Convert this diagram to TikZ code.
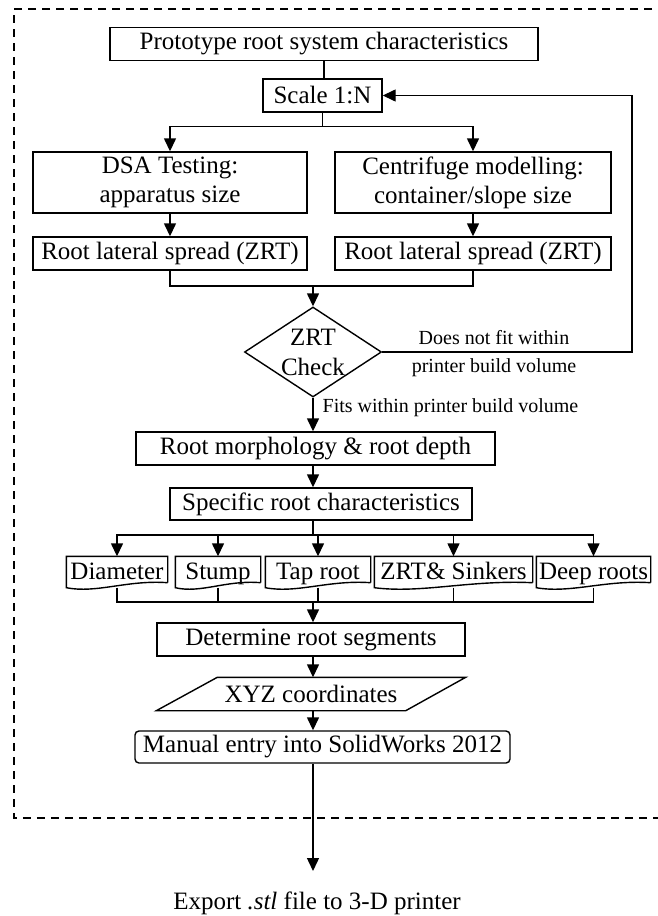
\documentclass[tikz,border=0pt]{standalone}
\usepackage{fontspec}
\setmainfont{Liberation Serif}
\usetikzlibrary{arrows.meta,shapes.geometric,calc}

\begin{document}
\begin{tikzpicture}[x=1pt,y=-1pt,line width=1.4pt,
  rbox/.style={draw,rectangle,inner sep=0pt,minimum height=33pt,font=\fontsize{25}{29}\selectfont,align=center},
  docnode/.style={rectangle,inner sep=0pt,minimum height=30pt,text height=19pt,text depth=4pt,font=\fontsize{25}{29}\selectfont},
  lbl/.style={inner sep=0pt,font=\fontsize{20}{28}\selectfont,align=center},
  arr/.style={-{Triangle[width=12pt,length=13pt]}}]
\useasboundingbox (0,0) rectangle (657,916);
\draw[line width=1.2pt,dash pattern=on 8pt off 6pt] (680,9) -- (14,9) -- (14,818) -- (680,818);

\node[rbox,minimum width=428pt] (proto) at (324,44) {Prototype root system characteristics};
\node[rbox,minimum width=119pt] (scale) at (322.5,95.5) {Scale 1:N};
\node[rbox,minimum width=274pt,minimum height=61pt] (dsa) at (170,182.5) {DSA Testing:\\apparatus size};
\node[rbox,minimum width=276pt,minimum height=61pt] (cent) at (473,182.5) {Centrifuge modelling:\\container/slope size};
\node[rbox,minimum width=274pt] (rls1) at (170,253.5) {Root lateral spread (ZRT)};
\node[rbox,minimum width=276pt] (rls2) at (473,253.5) {Root lateral spread (ZRT)};
\node[draw,diamond,aspect=1.52,minimum width=137pt,minimum height=90pt,inner sep=-6pt,
  font=\fontsize{25}{30}\selectfont,align=center] (chk) at (313,352) {ZRT\\Check};
\coordinate (j1) at (313,286);
\coordinate (fb) at (632,352);
\node[lbl] (nofit) at (494,354) {Does not fit within\\printer build volume};
\node[lbl,anchor=west] (fits) at (322,408) {Fits within printer build volume};
\node[rbox,minimum width=359pt] (morph) at (315.5,448.5) {Root morphology \& root depth};
\node[rbox,minimum width=302pt,minimum height=32pt] (spec) at (321,504) {Specific root characteristics};
\coordinate (s2) at (313,535);

% document shapes
\node[docnode,minimum width=100pt] (diam) at (117,572) {Diameter};
\node[docnode,minimum width=84pt] (stump) at (218,572) {Stump};
\node[docnode,minimum width=104pt] (tap) at (318,572) {Tap root};
\node[docnode,minimum width=157pt] (zrt) at (453.5,572) {ZRT\& Sinkers};
\node[docnode,minimum width=113pt] (deep) at (593.5,572) {Deep roots};
\foreach \n in {diam,stump,tap,zrt,deep}
  \draw ($(\n.south east)+(0,-5)$) -- (\n.north east) -- (\n.north west) -- (\n.south west)
    .. controls ($(\n.south west)!0.3!(\n.south east)+(0,6)$) and ($(\n.south west)!0.6!(\n.south east)+(0,-8)$) .. ($(\n.south east)+(0,-5)$);
\coordinate (j2) at (313,602);

\node[rbox,minimum width=308pt] (det) at (311,639.5) {Determine root segments};
\node[inner sep=0pt,minimum width=308pt,minimum height=32pt,font=\fontsize{25}{29}\selectfont] (xyz) at (311,694) {XYZ coordinates};
\draw (xyz.south west) -- ($(xyz.north west)+(61,0)$) -- (xyz.north east) -- ($(xyz.south east)+(-60,0)$) -- cycle;
\node[rbox,rounded corners=4pt,minimum width=375pt,minimum height=32pt] (manual) at (322.5,747) {Manual entry into SolidWorks 2012};
\node[anchor=north,inner sep=0pt,font=\fontsize{25}{29}\selectfont] (export) at (317,891) {Export \textit{.stl} file to 3-D printer};

% connectors
\draw (proto.south) -- (proto.south |- scale.north);
\draw[arr] (scale.south) -- ++(0,14) -| (dsa.north);
\draw[arr] (scale.south) -- ++(0,14) -| (cent.north);
\draw[arr] (dsa.south) -- (rls1.north);
\draw[arr] (cent.south) -- (rls2.north);
\draw (rls1.south) |- (j1) -| (rls2.south);
\draw[arr] (j1) -- (chk.north);
\draw[arr] (chk.east) -- (fb) |- (scale.east);
\draw[arr] (chk.south) -- (chk.south |- morph.north);
\draw[arr] (chk.south |- morph.south) -- (chk.south |- spec.north);
\draw (chk.south |- spec.south) -- (s2);
\foreach \n in {diam,stump,tap,zrt,deep} \draw[arr] (s2) -| (\n.north);
\foreach \n in {diam,stump,tap,zrt,deep} \draw (\n.south) |- (j2);
\draw[arr] (j2) -- (j2 |- det.north);
\draw[arr] (j2 |- det.south) -- (j2 |- xyz.north);
\draw[arr] (j2 |- xyz.south) -- (j2 |- manual.north);
\draw[arr,shorten >=20pt] (j2 |- manual.south) -- (j2 |- export.north);
\end{tikzpicture}
\end{document}
